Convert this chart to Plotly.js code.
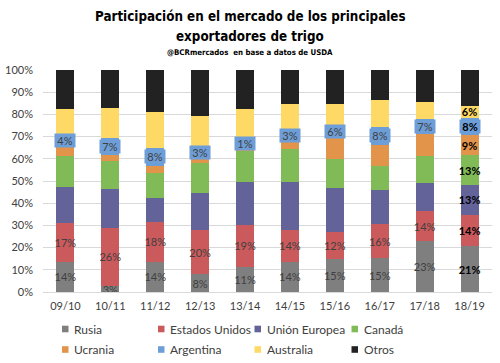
<!DOCTYPE html>
<html><head><meta charset="utf-8">
<script src="https://cdn.plot.ly/plotly-3.0.1.min.js"></script>
<style>html,body{margin:0;padding:0;background:#fff}#chart{width:500px;height:363px}</style>
</head><body><div id="chart"></div>
<script>
const campaigns = ['09/10','10/11','11/12','12/13','13/14','14/15','15/16','16/17','17/18','18/19'];
const rusia      = [13.6, 2.6, 13.6, 7.9, 11.2, 13.6, 14.7, 15.1, 22.8, 20.5];
const eeuu       = [17.4, 26.4, 18.1, 20.0, 19.1, 14.4, 12.3, 15.5, 13.6, 14.4];
const ue         = [16.1, 17.5, 10.8, 16.7, 19.2, 21.5, 19.8, 15.2, 12.8, 13.4];
const canada     = [14.1, 12.3, 11.0, 13.6, 14.1, 14.9, 13.1, 10.8, 12.2, 13.3];
const ucrania    = [5.1, 3.1, 3.3, 3.2, 3.0, 4.5, 9.4, 9.7, 9.8, 9.2];
const argentina  = [4.0, 7.4, 8.2, 3.0, 1.0, 3.0, 6.0, 8.0, 6.6, 7.7];
const australia  = [12.1, 13.8, 16.0, 14.9, 14.7, 12.8, 9.4, 12.2, 7.6, 5.5];
const otros      = [17.6, 16.9, 19.0, 20.7, 17.7, 15.3, 15.3, 13.5, 14.6, 16.0];

const rusiaLbl     = ['14%','3%','14%','8%','11%','14%','15%','15%','23%','21%'];
const eeuuLbl      = ['17%','26%','18%','20%','19%','14%','12%','16%','14%','14%'];
const ueLbl        = ['','','','','','','','','','13%'];
const canadaLbl    = ['','','','','','','','','','13%'];
const ucraniaLbl   = ['','','','','','','','','','9%'];
const argentinaLbl = ['4%','7%','8%','3%','1%','3%','6%','8%','7%','8%'];
const australiaLbl = ['','','','','','','','','','6%'];

const series = [
  {name:'Rusia', y:rusia, lbl:rusiaLbl, color:'#7f7f7f'},
  {name:'Estados Unidos', y:eeuu, lbl:eeuuLbl, color:'#cb5a5c'},
  {name:'Unión Europea', y:ue, lbl:ueLbl, color:'#63639a'},
  {name:'Canadá', y:canada, lbl:canadaLbl, color:'#80bb58'},
  {name:'Ucrania', y:ucrania, lbl:ucraniaLbl, color:'#e3944b'},
  {name:'Argentina', y:argentina, lbl:null, color:'#6e9ed8'},
  {name:'Australia', y:australia, lbl:australiaLbl, color:'#ffd966'},
  {name:'Otros', y:otros, lbl:null, color:'#222222'}
];
const last = campaigns.length - 1;
const fmt = (arr) => arr.map((t,i) => t === '' ? '' : (i === last ? '<b>'+t+'</b>' : t));
const txtColor = campaigns.map((c,i) => i === last ? '#000000' : '#404040');

const traces = series.map(s => ({
  type:'bar', name:s.name, x:campaigns, y:s.y,
  marker:{color:s.color},
  text: s.lbl ? fmt(s.lbl) : undefined,
  textposition: s.lbl ? 'inside' : 'none',
  insidetextanchor:'middle',
  constraintext:'none',
  textangle:0,
  textfont:{family:'Lato, sans-serif', size:11, color:txtColor},
  hoverinfo:'skip'
}));

// Argentina labels with blue box, positioned at centre of the stacked segment
const annotations = campaigns.map((c,i) => {
  const base = rusia[i]+eeuu[i]+ue[i]+canada[i]+ucrania[i];
  return {x:c, y:base+argentina[i]/2, xref:'x', yref:'y', showarrow:false,
    text: i === last ? '<b>'+argentinaLbl[i]+'</b>' : argentinaLbl[i],
    font:{family:'Lato, sans-serif', size:11, color: i===last?'#000000':'#404040'},
    bgcolor:'#6e9ed8', borderpad:0, width:20, height:13};
});

// layout geometry helpers (pixel -> paper)
const M = {l:43, r:8, t:70, b:71};
const plotW = 500 - M.l - M.r, plotH = 363 - M.t - M.b;
const px = v => (v - M.l) / plotW;
const py = v => (363 - M.b - v) / plotH;

const titleFont = 'DejaVu Sans Condensed, sans-serif';
annotations.push({xref:'paper', yref:'paper', x:px(250), y:py(16.5), yanchor:'middle',
  showarrow:false, text:'<b>Participación en el mercado de los principales</b>',
  font:{family:titleFont, size:13.3, color:'#000'}});
annotations.push({xref:'paper', yref:'paper', x:px(250), y:py(36.5), yanchor:'middle',
  showarrow:false, text:'<b>exportadores de trigo</b>',
  font:{family:titleFont, size:13.3, color:'#000'}});
annotations.push({xref:'paper', yref:'paper', x:px(250), y:py(52.5), yanchor:'middle',
  showarrow:false, text:'<b>@BCRmercados  en base a datos de USDA</b>',
  font:{family:titleFont, size:7.8, color:'#000'}});

// custom legend: 4 columns x 2 rows
const shapes = [];
const colX = [62, 158, 254.5, 351.5];
const rowY = [329, 349.5];
series.forEach((s, k) => {
  const cx = colX[k % 4], cy = rowY[Math.floor(k / 4)];
  shapes.push({type:'rect', xref:'paper', yref:'paper',
    x0:px(cx), x1:px(cx+6.5), y0:py(cy+3.3), y1:py(cy-3.3),
    fillcolor:s.color, line:{width:0}});
  annotations.push({xref:'paper', yref:'paper', x:px(cx+10), y:py(cy), xanchor:'left', yanchor:'middle',
    showarrow:false, text:s.name, font:{family:'Lato, sans-serif', size:12, color:'#404040'}});
});

const layout = {
  width:500, height:363,
  margin:{l:M.l, r:M.r, t:M.t, b:M.b, autoexpand:false},
  paper_bgcolor:'#ffffff', plot_bgcolor:'#ffffff',
  barmode:'stack', bargap:0.6,
  showlegend:false,
  xaxis:{type:'category', tickfont:{family:'Lato, sans-serif', size:11, color:'#404040'},
    showline:true, linecolor:'#d9d9d9', ticks:'', showgrid:false, ticklabelstandoff:4},
  yaxis:{range:[0,100], dtick:10, ticksuffix:'%', gridcolor:'#d9d9d9', zeroline:false,
    tickfont:{family:'Lato, sans-serif', size:11, color:'#404040'}, ticks:'', showline:false,
    ticklabelstandoff:9},
  annotations:annotations,
  shapes:shapes
};
Plotly.newPlot('chart', traces, layout, {staticPlot:true, displayModeBar:false});
</script></body></html>
